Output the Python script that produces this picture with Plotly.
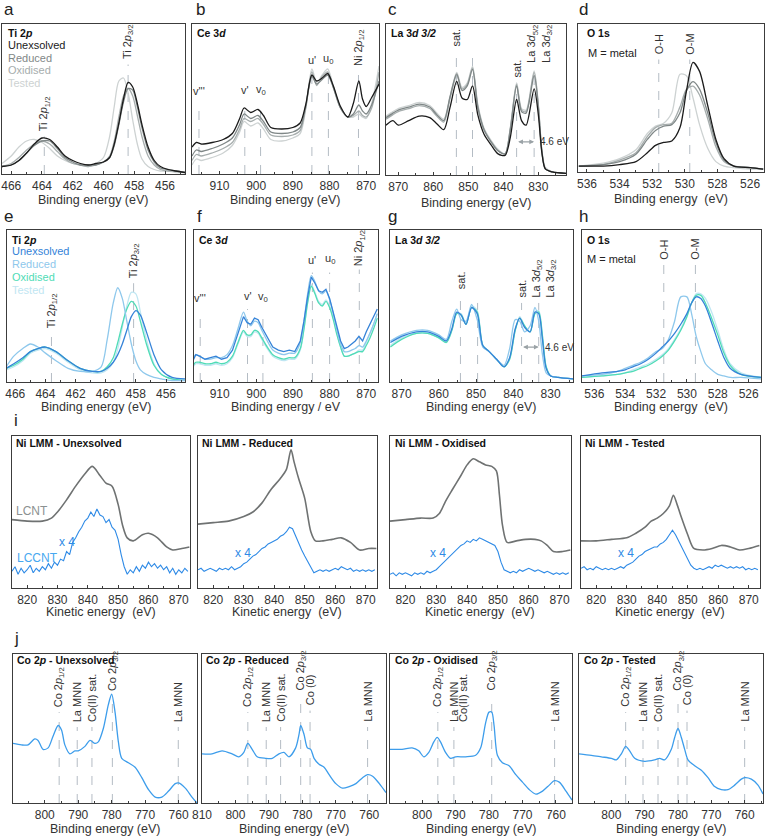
import plotly.graph_objects as go

W, H = 766, 839
FONT = "Liberation Sans, Arial, sans-serif"
NARROW = "Liberation Sans Narrow, Liberation Sans, Arial, sans-serif"

# ---------------- data (intensities in arbitrary units, 0-100) ----------------
SAMPLES = ["Unexsolved", "Reduced", "Oxidised", "Tested"]

# (a) Ti 2p, LCNT
A_X = [466.6, 466.0, 465.5, 465.0, 464.5, 464.0, 463.5, 463.0, 462.5, 462.0, 461.5, 461.0, 460.5, 460.0,
       459.6, 459.3, 459.0, 458.7, 458.4, 458.1, 457.8, 457.5, 457.1, 456.7, 456.3, 455.8, 455.3, 454.7]
A_UNEX = [5, 6, 9, 14, 20, 24, 23, 18, 12, 9, 7, 6, 7, 8, 11, 20, 34, 50, 61, 58, 47, 33, 18, 9, 5, 3, 2, 1]
A_RED = [5, 6, 9, 14, 19, 22, 22, 17, 11, 8, 6, 6, 6, 8, 11, 19, 33, 48, 57, 56, 45, 31, 16, 8, 4, 3, 2, 1]
A_OXI = [5, 7, 11, 16, 20, 22, 20, 15, 10, 7, 6, 5, 6, 8, 12, 22, 38, 52, 57, 52, 39, 25, 12, 6, 3, 2, 2, 1]
A_TES = [7, 12, 18, 22, 23, 21, 17, 12, 9, 7, 6, 5, 7, 11, 25, 45, 62, 64, 54, 36, 20, 10, 5, 3, 2, 2, 1, 1]

# (b) Ce 3d, LCNT
B_X = [917.5, 916.3, 915, 912, 909, 906.5, 904.5, 903.3, 901.5, 899.5, 898, 896, 893, 890, 888, 886.5,
       884.8, 883.5, 882, 880.5, 879, 877, 875, 873.5, 872, 871, 870, 868.5, 866.5]
B_UNEX = [18, 21, 20, 21, 23, 27, 37, 44, 41, 43, 39, 31, 30, 31, 34, 46, 66, 62, 64, 67, 59, 45, 38, 47, 62, 50, 45, 51, 60]
B_RED = [12, 16, 15, 17, 20, 24, 33, 40, 37, 39, 35, 28, 27, 28, 31, 45, 65, 60, 63, 66, 58, 44, 38, 40, 46, 42, 40, 46, 62]
B_OXI = [9, 13, 12, 14, 17, 21, 30, 37, 35, 37, 33, 26, 25, 26, 29, 44, 68, 59, 65, 68, 58, 44, 38, 39, 42, 39, 38, 44, 68]
B_TES = [6, 10, 9, 11, 14, 19, 28, 35, 32, 34, 30, 23, 22, 24, 27, 43, 70, 61, 66, 70, 59, 44, 38, 38, 40, 38, 37, 47, 72]

# (c) La 3d, LCNT
C_X = [873.5, 871.5, 870, 867, 864, 861, 859, 857, 855.2, 853.3, 851.8, 850.3, 848.8, 847.3, 845.5, 843.5,
       841.5, 839.5, 838, 836.2, 834.8, 833.5, 831.2, 830, 829, 828, 826, 822]
C_UNEX = [33, 36, 33, 36, 39, 38, 34, 30, 45, 62, 51, 50, 59, 40, 27, 20, 14, 13, 25, 50, 36, 33, 57, 40, 15, 4, 2, 1]
C_RED = [38, 41, 43, 45, 47, 45, 40, 36, 52, 67, 56, 59, 70, 45, 30, 22, 16, 14, 30, 59, 42, 41, 66, 45, 16, 4, 2, 1]
C_OXI = [37, 40, 42, 44, 46, 44, 39, 35, 51, 66, 57, 60, 71, 46, 30, 22, 16, 14, 31, 60, 43, 42, 68, 46, 16, 4, 2, 1]
C_TES = [39, 42, 44, 46, 48, 46, 41, 37, 52, 68, 58, 61, 72, 47, 31, 23, 17, 14, 31, 61, 44, 43, 69, 47, 17, 5, 2, 1]

# (d) O 1s, LCNT
D_X = [536.5, 535, 534, 533, 532.3, 531.8, 531.3, 530.8, 530.3, 529.9, 529.5, 529.1, 528.6, 528.1, 527.6, 527, 526, 525.2]
D_UNEX = [4, 4, 5, 7, 13, 18, 20, 21, 30, 55, 74, 68, 45, 22, 9, 4, 3, 2]
D_RED = [4, 5, 7, 12, 22, 28, 31, 32, 40, 55, 61, 56, 40, 20, 8, 4, 3, 2]
D_OXI = [4, 5, 8, 13, 24, 30, 32, 33, 44, 56, 58, 52, 36, 17, 7, 4, 3, 2]
D_TES = [4, 6, 9, 15, 26, 31, 33, 40, 66, 65, 50, 32, 16, 7, 4, 3, 2, 2]

# (e) Ti 2p, LCCNT
E_X = [466.6, 466.1, 465.5, 465.0, 464.5, 464.0, 463.3, 462.5, 461.7, 460.9, 460.3, 459.9, 459.5, 459.2,
       458.9, 458.6, 458.3, 458.0, 457.7, 457.3, 456.8, 456.3, 455.6, 454.7]
E_UNEX = [9, 12, 16, 20, 22, 23, 20, 14, 9, 7, 7, 9, 13, 18, 25, 34, 43, 47, 44, 33, 18, 8, 3, 2]
E_RED = [10, 17, 22, 25, 23, 19, 14, 9, 7, 7, 10, 28, 52, 62, 55, 40, 25, 14, 8, 5, 3, 2, 1, 1]
E_OXI = [9, 11, 15, 20, 22, 23, 20, 14, 9, 7, 7, 10, 16, 26, 38, 48, 53, 50, 40, 25, 11, 5, 2, 1]
E_TES = [8, 10, 14, 19, 21, 22, 19, 13, 8, 6, 6, 8, 13, 22, 36, 50, 59, 58, 46, 28, 12, 5, 2, 1]

# (f) Ce 3d, LCCNT
F_X = [917.5, 916.5, 915.5, 914, 912.5, 911, 909.5, 908, 906.5, 905, 903.5, 902.5, 901.5, 900.5, 899.5,
       898.5, 897, 895.5, 894, 892.5, 891, 889.5, 888, 887, 886, 885, 884, 883, 882, 881, 880, 879, 878,
       877, 876, 875, 874, 873, 872, 871, 870, 869, 868, 867]
F_UNEX = [13, 18, 17, 15, 16, 17, 15, 16, 21, 32, 43, 39, 38, 42, 41, 36, 29, 23, 21, 20, 21, 20, 27, 40,
          56, 69, 65, 60, 59, 61, 55, 46, 36, 27, 22, 23, 25, 27, 30, 27, 33, 38, 43, 48]
F_RED = [14, 18, 17, 15, 15, 16, 16, 18, 24, 35, 46, 40, 37, 40, 39, 34, 27, 21, 19, 18, 19, 19, 26, 40,
         58, 70, 66, 60, 58, 60, 54, 45, 34, 25, 20, 20, 21, 22, 24, 23, 27, 32, 38, 45]
F_OXI = [10, 13, 13, 12, 12, 13, 12, 13, 17, 26, 34, 31, 31, 34, 33, 29, 23, 18, 16, 15, 16, 16, 22, 35,
         52, 63, 58, 52, 50, 53, 49, 41, 31, 23, 17, 17, 18, 19, 20, 20, 24, 29, 35, 42]
F_TES = [9, 12, 12, 11, 11, 12, 11, 12, 16, 25, 33, 30, 30, 33, 32, 28, 22, 17, 15, 14, 15, 15, 21, 35,
         53, 64, 59, 53, 51, 54, 50, 42, 32, 23, 17, 17, 18, 19, 21, 21, 26, 32, 38, 45]

# (g) La 3d, LCCNT
G_X = [873, 870, 866, 863, 860, 858, 856.5, 855.2, 854, 852.7, 851.2, 849.7, 848.2, 846.5, 844.5, 842.5,
       841, 839.5, 838.3, 837, 835.5, 834.2, 833.2, 832.2, 831.2, 830, 828, 824]
G_UNEX = [26, 30, 33, 33, 30, 27, 35, 46, 44, 38, 49, 45, 24, 20, 15, 10, 16, 35, 42, 36, 33, 46, 45, 28, 9, 4, 3, 2]
G_RED = [27, 31, 34, 34, 31, 28, 40, 48, 41, 40, 51, 41, 23, 20, 15, 11, 22, 41, 40, 33, 37, 49, 40, 18, 6, 4, 3, 2]
G_OXI = [23, 28, 32, 32, 29, 26, 34, 45, 44, 38, 49, 46, 24, 20, 15, 10, 15, 34, 42, 37, 33, 45, 46, 30, 10, 4, 3, 2]
G_TES = [24, 29, 32, 32, 29, 26, 34, 45, 45, 38, 50, 47, 24, 20, 15, 10, 15, 34, 43, 37, 33, 46, 47, 31, 10, 4, 3, 2]

# (h) O 1s, LCCNT
H_X = [536.8, 535.5, 534.5, 534, 533.5, 533, 532.5, 532, 531.6, 531.2, 530.8, 530.4, 530.0, 529.7, 529.4,
       529.1, 528.8, 528.4, 528, 527.6, 527.2, 526.5, 525.2]
H_UNEX = [4, 6, 7, 8, 10, 12, 15, 19, 23, 27, 32, 38, 45, 52, 56, 55, 50, 39, 27, 16, 9, 5, 3]
H_RED = [4, 5, 7, 9, 11, 13, 16, 20, 22, 28, 40, 56, 56, 45, 30, 20, 12, 8, 5, 4, 3, 3, 2]
H_OXI = [3, 4, 5, 6, 7, 9, 11, 14, 17, 21, 27, 34, 43, 52, 57, 57, 52, 42, 31, 19, 11, 5, 3]
H_TES = [3, 4, 5, 6, 8, 10, 12, 15, 18, 22, 28, 35, 44, 52, 58, 58, 55, 46, 34, 21, 12, 6, 3]

# (i) Ni LMM: LCNT (grey) and LCCNT x4 (blue)
I1_X = [815, 820, 825, 828, 830, 833, 836, 839, 841.5, 844, 846, 848, 850, 851.5, 853, 855, 858, 860, 863, 866, 868, 871, 873.5]
I1_LCNT = [45, 44, 44, 46, 50, 58, 67, 75, 80, 74, 69, 67, 55, 41, 33, 31, 35, 36, 33, 27, 25, 26, 27]
I2_X = [815, 820, 825, 830, 833, 836, 839, 842, 844, 845.5, 846.5, 848, 850, 852, 853.5, 856, 859, 862, 865, 868, 871, 873.5]
I2_LCNT = [42, 43, 44, 47, 50, 56, 65, 72, 78, 91, 83, 72, 59, 37, 31, 31, 32, 33, 30, 25, 26, 26]
I3_X = [815, 820, 825, 829, 831, 833, 835, 838, 840, 842, 844, 846, 848, 849.5, 850.5, 851.5, 853, 856, 859,
        862, 864, 866, 868, 871, 873.5]
I3_LCNT = [44, 45, 46, 46, 49, 57, 64, 74, 81, 85, 83, 81, 80, 77, 61, 41, 30, 31, 32, 32, 31, 28, 24, 24, 25]
I4_X = [815, 820, 825, 830, 833, 836, 838, 840, 842, 844, 845.3, 846.5, 848, 850, 852, 855, 858, 861, 864, 867, 870, 873.5]
I4_LCNT = [31, 31, 32, 33, 36, 40, 44, 46, 49, 54, 61, 55, 46, 35, 26, 25, 26, 28, 27, 25, 26, 28]

KE = list(range(815, 874))
I1_LCCNT = [11, 14, 9, 13, 10, 12, 15, 10, 13, 11, 14, 12, 16, 13, 17, 15, 19, 18, 24, 22, 30, 33, 37, 40,
            44, 46, 50, 47, 52, 48, 47, 43, 45, 40, 38, 32, 22, 14, 9, 12, 10, 14, 11, 15, 13, 17, 14, 16,
            13, 15, 12, 14, 10, 13, 9, 12, 10, 13, 11]
I2_LCCNT = [12, 13, 11, 12, 13, 12, 11, 13, 12, 13, 12, 14, 12, 13, 14, 16, 17, 19, 21, 22, 24, 26, 27, 29,
            30, 31, 32, 34, 35, 37, 40, 39, 34, 30, 25, 21, 17, 13, 10, 11, 12, 11, 12, 11, 12, 13, 12, 14,
            13, 12, 13, 11, 12, 11, 12, 11, 12, 11, 12]
I3_LCCNT = [9, 10, 8, 10, 9, 10, 9, 8, 10, 9, 10, 9, 11, 10, 11, 12, 14, 16, 18, 20, 22, 24, 26, 28, 29, 31,
            30, 32, 31, 33, 32, 31, 30, 29, 28, 24, 17, 12, 11, 10, 11, 10, 12, 11, 12, 13, 12, 11, 12, 11,
            10, 11, 10, 9, 10, 9, 10, 9, 10]
I4_LCCNT = [13, 14, 12, 13, 12, 14, 13, 12, 13, 12, 13, 12, 13, 14, 13, 15, 16, 17, 19, 21, 22, 24, 25, 26,
            27, 27, 29, 30, 32, 35, 38, 35, 31, 27, 23, 19, 15, 13, 12, 13, 12, 13, 14, 13, 15, 14, 15, 14,
            13, 14, 13, 14, 13, 14, 12, 13, 12, 13, 12]

# (j) Co 2p
J1_X = [809.5, 807, 805, 803, 802, 800.5, 799, 797.5, 796, 795, 794, 792.5, 791, 790, 788, 786.5, 785, 784,
        782.5, 781, 780, 779, 778, 777, 775, 773, 771, 769, 767, 765, 763, 761, 760, 758, 756, 754.5]
J1_Y = [40, 39, 39, 43, 42, 36, 37, 45, 52, 49, 39, 33, 35, 35, 38, 42, 40, 41, 50, 66, 73, 61, 41, 30, 27,
        24, 17, 9, 4, 4, 8, 13, 13.5, 10, 4, 0]
J2_X = [810, 807, 804, 801, 799, 797.5, 796.3, 795, 793.5, 791, 789, 787, 785.5, 784, 782, 781, 780.5, 779.5,
        778.5, 777.5, 776.5, 775, 773.5, 772, 770, 768, 766, 764, 762, 760.5, 759, 757, 755]
J2_Y = [33, 33, 35, 33, 31, 34, 40, 36, 31, 30, 30, 33, 34, 31, 37, 46, 52, 46, 37, 36, 30, 26, 24, 19, 13,
        10, 11, 13, 17, 19, 18, 13, 7]
J3_X = [809.6, 806, 803, 801, 799.5, 798, 796.5, 795.5, 794.5, 793, 791.5, 790, 787, 784, 782.5, 781, 780,
        779.2, 778.5, 777.5, 776, 774, 772, 770, 768, 766, 764, 762, 760.5, 759, 757, 755.2]
J3_Y = [36, 36, 37, 35, 31, 34, 41, 44, 41, 34, 30, 31, 31, 32, 37, 54, 61, 61, 52, 32, 27, 25, 19, 14, 9, 6,
        8, 12, 15, 14, 8, 2]
J4_X = [809.7, 806, 803, 800, 798.5, 797, 795.7, 794.5, 793, 790, 787, 785.5, 784, 782, 781, 780, 779, 778,
        777, 775, 773, 771, 769, 767, 765, 763, 761, 760, 758, 756, 754.5]
J4_Y = [33, 32, 31, 30, 29, 33, 38, 35, 30, 28, 29, 30, 29, 36, 44, 50, 44, 36, 29, 25, 22, 17, 11, 9, 9, 12,
        16, 17, 16, 12, 6]

# ---------------- styling ----------------
GREYS = ["#1b1b1b", "#7f8787", "#a6adad", "#cdd2d2"]
BLUES = ["#3583d8", "#8ec8ec", "#4fdcb6", "#bfe6f2"]
LC_GREY = "#6f7272"
LC_BLUE = "#2e8ae6"
J_BLUE = "#3d9deb"
DASH = "#b4bcc4"
AX = "#3c3c3c"

# panel boxes in pixels: (x0, x1, ytop, ybottom), x range, tick step
PANELS = {
    1: ((2, 185, 24, 174), [466.6, 454.7], 2),
    2: ((192, 379, 24, 174), [917.5, 866.5], 10),
    3: ((386, 566, 24, 175), [873.5, 822.1], 10),
    4: ((578, 764, 24, 172), [536.55, 525.15], 2),
    5: ((7, 185, 230, 382), [466.55, 454.74], 2),
    6: ((194, 378, 230, 382), [917.0, 866.8], 10),
    7: ((390, 573, 230, 382), [873.1, 824.0], 10),
    8: ((582, 761, 230, 382), [536.8, 525.2], 2),
    9: ((12, 190, 436, 588), [815, 873.7], 10),
    10: ((198, 377, 436, 588), [815, 873.7], 10),
    11: ((390, 571, 436, 588), [815, 873.7], 10),
    12: ((581, 760, 436, 588), [815, 873.7], 10),
    13: ((13, 197, 654, 803), [809.5, 754.5], 10),
    14: ((202, 386, 654, 803), [810, 755], 10),
    15: ((390, 572, 654, 803), [809.6, 755.2], 10),
    16: ((579, 763, 654, 803), [809.7, 754.5], 10),
}

fig = go.Figure()
layout = dict(
    width=W, height=H, margin=dict(l=0, r=0, t=0, b=0, autoexpand=False),
    paper_bgcolor="white", plot_bgcolor="white", showlegend=False,
    font=dict(family=FONT, size=12, color="#333333"),
)


def px2x(p):
    return p / W


def px2y(p):
    return 1 - p / H


for n, (box, xr, dt) in PANELS.items():
    x0, x1, yt, yb = box
    sfx = "" if n == 1 else str(n)
    layout["xaxis" + sfx] = dict(
        domain=[px2x(x0), px2x(x1)], range=xr, anchor="y" + sfx, automargin=False,
        showline=True, mirror=True, linecolor=AX, linewidth=1.3,
        ticks="inside", ticklen=3, tickcolor=AX, dtick=dt, tick0=0,
        minor=dict(ticks="inside", ticklen=2, dtick=dt / 2, tickcolor=AX),
        showgrid=False, zeroline=False,
        tickfont=dict(size=12, color="#333333", family=FONT),
    )
    layout["yaxis" + sfx] = dict(
        domain=[px2y(yb), px2y(yt)], range=[0, 100], anchor="x" + sfx, automargin=False,
        showline=True, mirror=True, linecolor=AX, linewidth=1.3,
        showticklabels=False, ticks="", showgrid=False, zeroline=False,
    )


def line(n, x, y, color, width=1.3, smooth=True):
    sfx = "" if n == 1 else str(n)
    fig.add_trace(go.Scatter(
        x=x, y=y, xaxis="x" + sfx, yaxis="y" + sfx, mode="lines",
        line=dict(color=color, width=width, shape="spline" if smooth else "linear",
                  smoothing=0.8 if smooth else 0),
        hoverinfo="skip"))


# rows a-h : four conditions each, lightest drawn first
for n, xs, ys, cols in [
    (1, A_X, [A_UNEX, A_RED, A_OXI, A_TES], GREYS),
    (2, B_X, [B_UNEX, B_RED, B_OXI, B_TES], GREYS),
    (3, C_X, [C_UNEX, C_RED, C_OXI, C_TES], GREYS),
    (4, D_X, [D_UNEX, D_RED, D_OXI, D_TES], GREYS),
    (5, E_X, [E_UNEX, E_RED, E_OXI, E_TES], BLUES),
    (6, F_X, [F_UNEX, F_RED, F_OXI, F_TES], BLUES),
    (7, G_X, [G_UNEX, G_RED, G_OXI, G_TES], BLUES),
    (8, H_X, [H_UNEX, H_RED, H_OXI, H_TES], BLUES),
]:
    for k in [3, 2, 1, 0]:
        line(n, xs, ys[k], cols[k], smooth=not (n == 6 and k == 0))

# row i
for n, xl, yl, yb in [(9, I1_X, I1_LCNT, I1_LCCNT), (10, I2_X, I2_LCNT, I2_LCCNT),
                      (11, I3_X, I3_LCNT, I3_LCCNT), (12, I4_X, I4_LCNT, I4_LCCNT)]:
    line(n, xl, yl, LC_GREY, width=1.6)
    line(n, KE, yb, LC_BLUE, width=1.1, smooth=False)

# row j
for n, x, y in [(13, J1_X, J1_Y), (14, J2_X, J2_Y), (15, J3_X, J3_Y), (16, J4_X, J4_Y)]:
    line(n, x, y, J_BLUE, width=1.3)

shapes = []
ann = []


def vdash(n, xv, top):
    sfx = "" if n == 1 else str(n)
    shapes.append(dict(type="line", xref="x" + sfx, yref="y" + sfx + " domain", x0=xv, x1=xv,
                       y0=0, y1=top, line=dict(color=DASH, width=1, dash="dash"), layer="below"))


def vlabel(n, xv, bottom, text, size=11, xshift=0):
    sfx = "" if n == 1 else str(n)
    ann.append(dict(xref="x" + sfx, yref="y" + sfx + " domain", x=xv, y=bottom, text=text,
                    textangle=-90, xanchor="center", yanchor="bottom", showarrow=False,
                    xshift=xshift, font=dict(family=NARROW, size=size, color="#333333")))


def hlabel(n, xv, bottom, text, size=11):
    sfx = "" if n == 1 else str(n)
    ann.append(dict(xref="x" + sfx, yref="y" + sfx + " domain", x=xv, y=bottom, text=text,
                    xanchor="center", yanchor="bottom", showarrow=False,
                    font=dict(family=FONT, size=size, color="#333333")))


def ptext(xp, yp, text, size=11, color="#222222", anchor="left", family=FONT):
    ann.append(dict(xref="paper", yref="paper", x=px2x(xp), y=px2y(yp), text=text,
                    xanchor=anchor, yanchor="middle", showarrow=False,
                    font=dict(family=family, size=size, color=color)))


TI12 = "Ti 2<i>p</i><sub>1/2</sub>"
TI32 = "Ti 2<i>p</i><sub>3/2</sub>"
NI12 = "Ni 2<i>p</i><sub>1/2</sub>"
LA = "La 3<i>d</i><sub>5/2</sub><br>La 3<i>d</i><sub>3/2</sub>"

# a / e
for n, p12, p32, b12, b32 in [(1, 463.85, 458.4, 0.27, 0.75), (5, 463.6, 458.15, 0.34, 0.67)]:
    vdash(n, p12, b12 - 0.02)
    vlabel(n, p12, b12, TI12)
    vdash(n, p32, b32 - 0.02)
    vlabel(n, p32, b32, TI32)

# b / f
CE_MARKS = {
    2: [(915.6, "v'''"), (903.1, "v'"), (898.8, "v<sub>0</sub>"), (884.8, "u'"), (880.3, "u<sub>0</sub>"), 872.1],
    6: [(915.3, "v'''"), (902.4, "v'"), (898.2, "v<sub>0</sub>"), (884.7, "u'"), (880.0, "u<sub>0</sub>"), 871.9],
}
for n, lo, hi in [(2, 0.5, 0.71), (6, 0.5, 0.75)]:
    marks = CE_MARKS[n]
    for i, (xv, t) in enumerate(marks[:5]):
        b = hi if i >= 3 else (lo + 0.01 if i == 1 else lo)
        vdash(n, xv, b - 0.03)
        hlabel(n, xv, b, t)
    vdash(n, marks[5], hi - 0.01)
    vlabel(n, marks[5], hi, NI12)

# c / g
for n, s1, s2, s3, s4, bsat1, bsat2, bla, ay in [
        (3, 853.4, 848.8, 836.2, 831.2, 0.84, 0.63, 0.73, 0.22),
        (7, 854.2, 849.6, 837.8, 833.2, 0.60, 0.54, 0.54, 0.23)]:
    sfx = str(n)
    vdash(n, s1, bsat1 - 0.02)
    vlabel(n, s1, bsat1, "sat.")
    vdash(n, s2, bsat1 - 0.05 if n == 3 else bsat2 - 0.02)
    vdash(n, s3, bsat2 - 0.02)
    vlabel(n, s3, bsat2, "sat.")
    vdash(n, s4, bla - 0.02)
    vlabel(n, s4, bla, LA, xshift=6)
    ann.append(dict(xref="x" + sfx, yref="y" + sfx + " domain", x=s4, y=ay, ax=s3, ay=ay,
                    axref="x" + sfx, ayref="y" + sfx + " domain", text="", showarrow=True,
                    arrowhead=2, arrowside="end+start", arrowsize=0.8, arrowwidth=1.2,
                    arrowcolor="#9aa2a6"))
    ann.append(dict(xref="x" + sfx, yref="y" + sfx + " domain", x=s4 - 1.2, y=ay, text="4.6 eV",
                    xanchor="left", yanchor="middle", showarrow=False,
                    font=dict(family=FONT, size=10, color="#333333")))

# d / h
for n, oh, om, b in [(4, 531.6, 529.7, 0.78), (8, 531.5, 529.45, 0.79)]:
    vdash(n, oh, b - 0.02)
    vlabel(n, oh, b, "O-H")
    vdash(n, om, b - 0.02)
    vlabel(n, om, b, "O-M")

# j
CO12 = "Co 2<i>p</i><sub>1/2</sub>"
CO32 = "Co 2<i>p</i><sub>3/2</sub>"
J_LABELS = {
    13: [(795.7, CO12, 0.63), (790.3, "La MNN", 0.53), (785.9, "Co(II) sat.", 0.53),
         (779.8, CO32, 0.74), (760.1, "La MNN", 0.53)],
    14: [(796.3, CO12, 0.63), (790.8, "La MNN", 0.53), (786.5, "Co(II) sat.", 0.53),
         (780.5, CO32, 0.74), (777.7, "Co (0)", 0.64), (760.5, "La MNN", 0.53)],
    15: [(795.3, CO12, 0.63), (790.5, "La MNN", 0.53), (787.8, "Co(II) sat.", 0.53),
         (779.2, CO32, 0.74), (760.4, "La MNN", 0.53)],
    16: [(795.7, CO12, 0.63), (790.5, "La MNN", 0.53), (786.0, "Co(II) sat.", 0.53),
         (780.0, CO32, 0.74), (777.3, "Co (0)", 0.64), (760.0, "La MNN", 0.53)],
}
for n, labs in J_LABELS.items():
    for xv, t, b in labs:
        if not (n == 15 and t == "Co(II) sat."):
            vdash(n, xv, b - 0.02)
        vlabel(n, xv, b, t)

# panel titles
for xp, yp, t in [(6, 33, "<b>Ti 2<i>p</i></b>"), (195, 33, "<b>Ce 3<i>d</i></b>"),
                  (389, 33, "<b>La 3<i>d 3/2</i></b>"), (585, 33, "<b>O 1s</b>"),
                  (10, 240, "<b>Ti 2<i>p</i></b>"), (197, 240, "<b>Ce 3<i>d</i></b>"),
                  (393, 240, "<b>La 3<i>d 3/2</i></b>"), (585, 240, "<b>O 1s</b>"),
                  (14, 443, "<b>Ni LMM - Unexsolved</b>"), (200, 443, "<b>Ni LMM - Reduced</b>"),
                  (393, 443, "<b>Ni LMM - Oxidised</b>"), (583, 443, "<b>Ni LMM - Tested</b>"),
                  (15, 660, "<b>Co 2<i>p</i> - Unexsolved</b>"), (204, 660, "<b>Co 2<i>p</i> - Reduced</b>"),
                  (393, 660, "<b>Co 2<i>p</i> - Oxidised</b>"), (582, 660, "<b>Co 2<i>p</i> - Tested</b>")]:
    ptext(xp, yp, t, size=10.5, color="#111111")

# legends in a / e
for k, s in enumerate(SAMPLES):
    ptext(6, 45 + k * 12.7, s, size=11, color=GREYS[k])
    ptext(10, 251 + k * 13, s, size=11, color=BLUES[k])

ptext(586, 53, "M = metal", size=11)
ptext(585, 259, "M = metal", size=11)

# Ni LMM labels
ptext(14, 511, "LCNT", size=12, color="#8b9191")
ptext(15, 558, "LCCNT", size=12, color="#47a8f0")
for xp in [57, 233, 428, 616]:
    ptext(xp, 542 if xp == 57 else 553, "x 4", size=12, color=LC_BLUE)

# axis titles
for cx, cy, t in [(93, 200, "Binding energy (eV)"), (285, 200, "Binding energy (eV)"),
                  (476, 203, "Binding energy (eV)"), (671, 199, "Binding energy  (eV)"),
                  (96, 407, "Binding energy (eV)"), (286, 407, "Binding energy / eV"),
                  (481, 407, "Binding energy (eV)"), (671, 407, "Binding energy  (eV)"),
                  (101, 612, "Kinetic energy  (eV)"), (287, 612, "Kinetic energy  (eV)"),
                  (480, 612, "Kinetic energy  (eV)"), (670, 612, "Kinetic energy  (eV)"),
                  (105, 829, "Binding energy (eV)"), (294, 829, "Binding energy (eV)"),
                  (481, 829, "Binding energy (eV)"), (671, 829, "Binding energy (eV)")]:
    ptext(cx, cy, t, size=12.5, color="#333333", anchor="center")

# panel letters
for xp, yp, t in [(9, 10, "a"), (200, 10, "b"), (392, 10, "c"), (583, 10, "d"),
                  (8, 216, "e"), (199, 216, "f"), (392, 216, "g"), (583, 216, "h"),
                  (16, 420, "i"), (16, 638, "j")]:
    ptext(xp, yp, t, size=17, color="#222222", anchor="center")

layout["shapes"] = shapes
layout["annotations"] = ann
fig.update_layout(**layout)
fig.write_html("out.html", config={"displayModeBar": False},
               post_script="document.body.style.margin='0px';document.body.style.overflow='hidden';")
